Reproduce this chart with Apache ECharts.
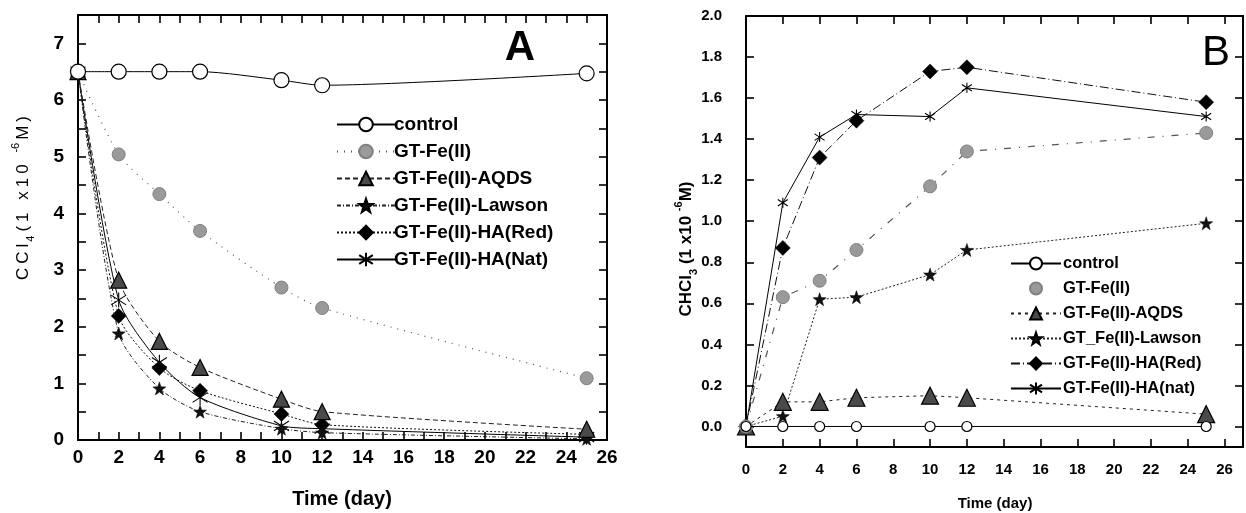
<!DOCTYPE html>
<html><head><meta charset="utf-8">
<script src="https://cdn.jsdelivr.net/npm/echarts@6/dist/echarts.min.js"></script>
<style>html,body{margin:0;padding:0;background:#fff}#c{width:1246px;height:513px}</style>
</head><body><div id="c"></div>
<script>
// ---- data ----
const days = [0, 2, 4, 6, 10, 12, 25];
const namesA = ['control', 'GT-Fe(II)', 'GT-Fe(II)-AQDS', 'GT-Fe(II)-Lawson', 'GT-Fe(II)-HA(Red)', 'GT-Fe(II)-HA(Nat)'];
const namesB = ['control', 'GT-Fe(II)', 'GT-Fe(II)-AQDS', 'GT_Fe(II)-Lawson', 'GT-Fe(II)-HA(Red)', 'GT-Fe(II)-HA(nat)'];
// Panel A: CCl4 (1e-6 M)
const cclControl = [6.5, 6.5, 6.5, 6.5, 6.35, 6.26, 6.47];
const cclFe      = [6.5, 5.04, 4.34, 3.69, 2.69, 2.33, 1.09];
const cclAqds    = [6.5, 2.82, 1.74, 1.28, 0.72, 0.50, 0.19];
const cclLawson  = [6.5, 1.88, 0.91, 0.50, 0.20, 0.13, 0.02];
const cclRed     = [6.5, 2.19, 1.27, 0.87, 0.46, 0.27, 0.10];
const cclNat     = [6.5, 2.47, 1.37, 0.75, 0.25, 0.20, 0.05];
// Panel B: CHCl3 (1e-6 M)
const chcControl = [0, 0, 0, 0, 0, 0, 0];
const chcFe      = [0, 0.63, 0.71, 0.86, 1.17, 1.34, 1.43];
const chcAqds    = [0, 0.12, 0.12, 0.14, 0.15, 0.14, 0.06];
const chcLawson  = [0, 0.05, 0.62, 0.63, 0.74, 0.86, 0.99];
const chcRed     = [0, 0.87, 1.31, 1.49, 1.73, 1.75, 1.58];
const chcNat     = [0, 1.09, 1.41, 1.52, 1.51, 1.65, 1.51];
// ticks
const xTicksA = [0, 2, 4, 6, 8, 10, 12, 14, 16, 18, 20, 22, 24, 26];
const yTicksA = [0, 1, 2, 3, 4, 5, 6, 7];
const xTicksB = [0, 2, 4, 6, 8, 10, 12, 14, 16, 18, 20, 22, 24, 26];
const yTicksB = [0.0, 0.2, 0.4, 0.6, 0.8, 1.0, 1.2, 1.4, 1.6, 1.8, 2.0];

// ---- build ----
const FONT = '"Liberation Sans", Arial, sans-serif';
const pairs = v => days.map((d, i) => [d, v[i]]);
const STAR = 'path://M0,-10 L2.35,-3.24 L9.51,-3.09 L3.8,1.24 L5.88,8.09 L0,4 L-5.88,8.09 L-3.8,1.24 L-9.51,-3.09 L-2.35,-3.24 Z';
const AST = 'path://M0,-10 L0,10 M-7.6,-6.5 L7.6,6.5 M-7.6,6.5 L7.6,-6.5';

function styles(panel) {
  const big = panel === 'A';
  return [
    { symbol: 'circle', size: big ? 15 : 10, item: { color: '#fff', borderColor: '#000', borderWidth: 1.2 },
      line: { color: '#000', width: 1, type: 'solid' } },
    { symbol: 'circle', size: 13, item: { color: '#9a9a9a', borderColor: '#808080', borderWidth: 1 },
      line: { color: '#555', width: 1.2, type: big ? [1, 6] : [7, 8, 1, 8] } },
    { symbol: 'triangle', size: big ? 16 : 17, item: { color: '#4a4a4a', borderColor: '#000', borderWidth: 1.2 },
      line: { color: '#222', width: 1, type: big ? [5, 3] : [3, 4] } },
    { symbol: STAR, size: 13, item: { color: '#111', borderColor: '#000', borderWidth: 0.5 },
      line: { color: '#222', width: 1, type: big ? [4, 2, 1, 2] : [2, 2] } },
    { symbol: 'diamond', size: 15, item: { color: '#000', borderColor: '#000', borderWidth: 0.5 },
      line: { color: '#111', width: 1, type: big ? [2, 2] : [9, 3, 1, 3] } },
    { symbol: AST, size: big ? 15 : 10, item: { color: '#000', borderColor: '#000', borderWidth: 1.1 },
      line: { color: '#000', width: 1, type: 'solid' } }
  ];
}

const dataA = [cclControl, cclFe, cclAqds, cclLawson, cclRed, cclNat];
const dataB = [chcControl, chcFe, chcAqds, chcLawson, chcRed, chcNat];
const series = [];
styles('A').forEach((s, i) => series.push({
  type: 'line', name: 'A:' + namesA[i], xAxisIndex: 0, yAxisIndex: 0,
  data: pairs(dataA[i]), symbol: s.symbol, symbolSize: s.size, showAllSymbol: true,
  smooth: 0.25, itemStyle: s.item, lineStyle: s.line, z: 10 - i
}));
styles('B').forEach((s, i) => series.push({
  type: 'line', name: 'B:' + namesB[i], xAxisIndex: 2, yAxisIndex: 2,
  data: pairs(dataB[i]), symbol: s.symbol, symbolSize: s.size, showAllSymbol: true,
  itemStyle: s.item, lineStyle: s.line, z: 10 - i
}));

const axLine = { show: true, onZero: false, lineStyle: { color: '#000', width: 2 } };
function mkAx(grid, pos, min, max, ticks, label) {
  return {
    type: 'value', gridIndex: grid, position: pos, min: min, max: max,
    axisLine: axLine, splitLine: { show: false },
    axisTick: { inside: true, length: 8, lineStyle: { color: '#000', width: 1.6 }, customValues: ticks },
    axisLabel: label ? Object.assign({ show: true, color: '#000', fontFamily: FONT, fontWeight: 'bold' }, label) : { show: false }
  };
}
const xHalfA = []; for (let v = 0; v <= 26; v += 1) xHalfA.push(v);
const yHalfA = []; for (let v = 0; v <= 7.5; v += 0.5) yHalfA.push(v);

const xAxes = [
  mkAx(0, 'bottom', 0, 26, xHalfA, { customValues: xTicksA, fontSize: 19, margin: 8 }),
  mkAx(0, 'top', 0, 26, xHalfA, null),
  mkAx(1, 'bottom', 0, 27, xTicksB, { customValues: xTicksB, fontSize: 15, margin: 15 }),
  mkAx(1, 'top', 0, 27, xTicksB, null)
];
const yAxes = [
  mkAx(0, 'left', 0, 7.5, yHalfA, { customValues: yTicksA, fontSize: 19, margin: 14 }),
  mkAx(0, 'right', 0, 7.5, yHalfA, null),
  mkAx(1, 'left', -0.1, 2.0, yTicksB, { customValues: yTicksB, fontSize: 15, margin: 24, formatter: v => Number(v).toFixed(1) }),
  mkAx(1, 'right', -0.1, 2.0, yTicksB, null)
];

// spaced y-title for panel A (each character is a rich token with side padding)
const spaced = (str, cls) => str.split('').map(ch => '{' + cls + '|' + ch + '}').join('');
const titleA = spaced('CCl', 'c') + '{s|4}' + spaced('(1 x10 ', 'c') + '{p|-6}' + spaced('M)', 'c');

const legendText = n => n.slice(2);
const option = {
  animation: false,
  backgroundColor: '#fff',
  grid: [
    { left: 78, top: 15, width: 529, height: 425, outerBoundsMode: 'none' },
    { left: 746, top: 16, width: 497, height: 431, outerBoundsMode: 'none' }
  ],
  xAxis: xAxes,
  yAxis: yAxes,
  legend: [
    { data: namesA.map(n => 'A:' + n), orient: 'vertical', left: 331, top: 110, itemWidth: 58, itemHeight: 17,
      itemGap: 8, formatter: legendText, selectedMode: false,
      textStyle: { color: '#000', fontFamily: FONT, fontWeight: 'bold', fontSize: 19, lineHeight: 19, padding: [0, 0, 0, -6] } },
    { data: namesB.map((n, i) => i === 1 ? { name: 'B:' + n, lineStyle: { opacity: 0 } } : 'B:' + n),
      orient: 'vertical', left: 1005, top: 250, itemWidth: 50, itemHeight: 15,
      itemGap: 8, formatter: legendText, selectedMode: false,
      textStyle: { color: '#000', fontFamily: FONT, fontWeight: 'bold', fontSize: 16.5, lineHeight: 17, padding: [0, 0, 0, -3] } }
  ],
  graphic: [
    { type: 'text', x: 520, y: 48, style: { text: 'A', font: 'bold 42px ' + FONT, fill: '#000', align: 'center', verticalAlign: 'middle' } },
    { type: 'text', x: 1216, y: 53, style: { text: 'B', font: '42px ' + FONT, fill: '#000', align: 'center', verticalAlign: 'middle' } },
    { type: 'text', x: 23, y: 198, rotation: Math.PI / 2,
      style: { text: titleA, align: 'center', verticalAlign: 'middle', fill: '#000',
        rich: { c: { fontFamily: FONT, fontSize: 17, lineHeight: 26, verticalAlign: 'middle', padding: [0, 2, 0, 2] },
                s: { fontFamily: FONT, fontSize: 11, lineHeight: 26, verticalAlign: 'bottom', padding: [0, 2, 0, 0] },
                p: { fontFamily: FONT, fontSize: 11, lineHeight: 26, verticalAlign: 'top', padding: [0, 1, 0, 1] } } } },
    { type: 'text', x: 686, y: 249, rotation: Math.PI / 2,
      style: { text: '{a|CHCl}{s|3}{a| (1 x10 }{p|-6}{a|M)}', align: 'center', verticalAlign: 'middle', fill: '#000',
        rich: { a: { fontFamily: FONT, fontWeight: 'bold', fontSize: 17, lineHeight: 26, verticalAlign: 'middle' },
                s: { fontFamily: FONT, fontWeight: 'bold', fontSize: 11, lineHeight: 26, verticalAlign: 'bottom' },
                p: { fontFamily: FONT, fontWeight: 'bold', fontSize: 11, lineHeight: 26, verticalAlign: 'top' } } } },
    { type: 'text', x: 342, y: 499, style: { text: 'Time (day)', font: 'bold 20px ' + FONT, fill: '#000', align: 'center', verticalAlign: 'middle' } },
    { type: 'text', x: 995, y: 504, style: { text: 'Time (day)', font: 'bold 15px ' + FONT, fill: '#000', align: 'center', verticalAlign: 'middle' } }
  ],
  series: series
};
const chart = echarts.init(document.getElementById('c'), null, { renderer: 'canvas' });
chart.setOption(option);
</script></body></html>
